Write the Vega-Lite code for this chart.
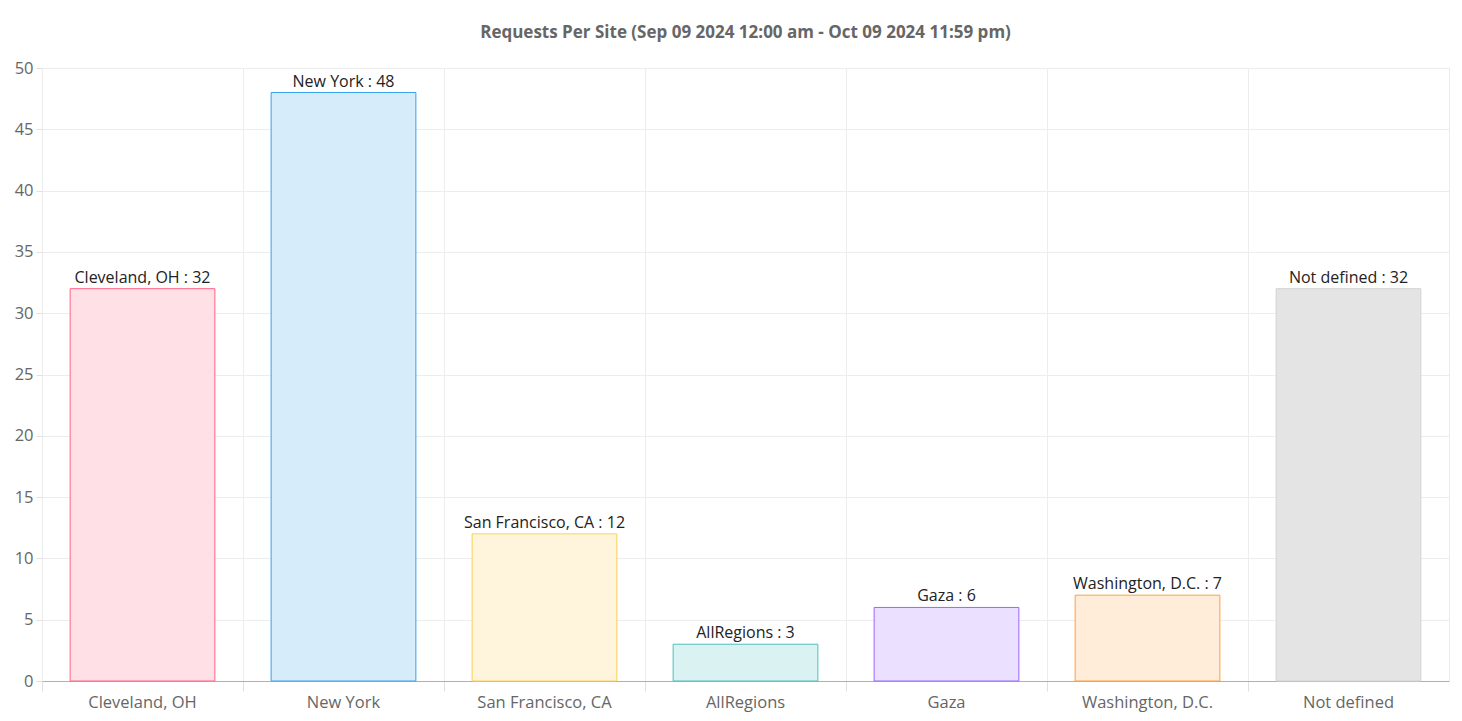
{
  "$schema": "https://vega.github.io/schema/vega-lite/v6.json",
  "width": 1462,
  "height": 721,
  "autosize": {"type": "fit", "contains": "padding"},
  "padding": {"left": 14, "right": 13, "top": 24, "bottom": 10},
  "config": {
    "font": "Open Sans",
    "view": {"stroke": "#ebebeb"},
    "axis": {"gridColor": "#ededed", "tickColor": "#e0e0e0", "labelColor": "#666666", "labelFontSize": 16.5, "domain": false}
  },
  "title": {"text": "Requests Per Site (Sep 09 2024 12:00 am - Oct 09 2024 11:59 pm)", "fontSize": 17, "fontWeight": "bold", "color": "#666666", "offset": 18, "anchor": "middle"},
  "data": {"values": [
    {"site": "Cleveland, OH", "requests": 32},
    {"site": "New York", "requests": 48},
    {"site": "San Francisco, CA", "requests": 12},
    {"site": "AllRegions", "requests": 3},
    {"site": "Gaza", "requests": 6},
    {"site": "Washington, D.C.", "requests": 7},
    {"site": "Not defined", "requests": 32}
  ]},
  "transform": [{"calculate": "datum.site + ' : ' + datum.requests", "as": "label"}],
  "encoding": {
    "x": {"field": "site", "type": "nominal", "sort": null, "scale": {"paddingInner": 0, "paddingOuter": 0},
      "axis": {"title": null, "labelAngle": 0, "bandPosition": 0, "tickSize": 10, "labelPadding": 3, "grid": true, "domain": true, "domainColor": "#b0b0b0", "labelBound": false}},
    "y": {"field": "requests", "type": "quantitative", "scale": {"domain": [0, 50], "nice": false},
      "axis": {"title": null, "values": [0,5,10,15,20,25,30,35,40,45,50], "tickSize": 6, "labelPadding": 3, "labelOverlap": false}}
  },
  "layer": [
    {"mark": {"type": "bar", "width": {"band": 0.72}, "strokeWidth": 1},
     "encoding": {
       "color": {"field": "site", "type": "nominal", "sort": null, "legend": null,
         "scale": {"domain": ["Cleveland, OH", "New York", "San Francisco, CA", "AllRegions", "Gaza", "Washington, D.C.", "Not defined"],
                   "range": ["#ffe0e6", "#d7ecfb", "#fff5dd", "#dbf2f2", "#ebe0ff", "#ffecd9", "#e4e4e4"]}},
       "stroke": {"field": "site", "type": "nominal", "sort": null, "legend": null,
         "scale": {"domain": ["Cleveland, OH", "New York", "San Francisco, CA", "AllRegions", "Gaza", "Washington, D.C.", "Not defined"],
                   "range": ["#ff6384", "#36a2eb", "#ffcd56", "#4bc0c0", "#9966ff", "#ff9f40", "#d3d3d3"]}}
     }},
    {"mark": {"type": "text", "baseline": "bottom", "dy": -3, "fontSize": 16, "color": "#222222"},
     "encoding": {"text": {"field": "label"}}}
  ]
}
